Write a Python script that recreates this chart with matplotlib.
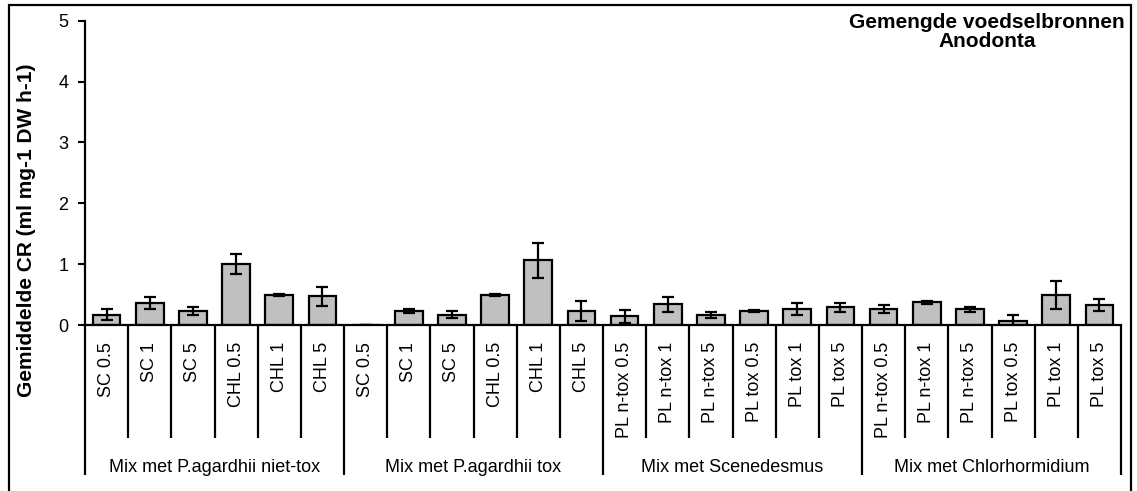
import numpy as np
import matplotlib
matplotlib.use("Agg")
import matplotlib.pyplot as plt
from matplotlib.patches import Rectangle
import matplotlib.transforms as mtransforms

plt.rcParams['font.family'] = ['Liberation Sans', 'DejaVu Sans']

# -----------------------------
# Data
# -----------------------------
groups = [
    "Mix met P.agardhii niet-tox",
    "Mix met P.agardhii tox",
    "Mix met Scenedesmus",
    "Mix met Chlorhormidium",
]
sc_chl_labels = ["SC 0.5", "SC 1", "SC 5", "CHL 0.5", "CHL 1", "CHL 5"]
pl_labels = ["PL n-tox 0.5", "PL n-tox 1", "PL n-tox 5", "PL tox 0.5", "PL tox 1", "PL tox 5"]
categories = sc_chl_labels + sc_chl_labels + pl_labels + pl_labels

cr_niet_tox = [0.17, 0.36, 0.23, 1.00, 0.49, 0.47]
cr_tox = [0.00, 0.23, 0.17, 0.49, 1.06, 0.23]
cr_scenedesmus = [0.14, 0.34, 0.16, 0.23, 0.26, 0.29]
cr_chlorhormidium = [0.26, 0.37, 0.26, 0.07, 0.50, 0.33]

err_niet_tox = [0.09, 0.10, 0.07, 0.17, 0.02, 0.16]
err_tox = [0.00, 0.04, 0.06, 0.02, 0.29, 0.17]
err_scenedesmus = [0.10, 0.12, 0.05, 0.01, 0.10, 0.07]
err_chlorhormidium = [0.07, 0.02, 0.04, 0.09, 0.23, 0.10]

values = cr_niet_tox + cr_tox + cr_scenedesmus + cr_chlorhormidium
errors = err_niet_tox + err_tox + err_scenedesmus + err_chlorhormidium
n_per_group = 6

# -----------------------------
# Figure / axes (pixel layout)
# -----------------------------
W, H = 1137, 491
fig = plt.figure(figsize=(W / 100, H / 100), dpi=100, facecolor="white")
ax_left, ax_right, ax_bottom, ax_top = 85, 1121, 325, 20.7
ax = fig.add_axes([ax_left / W, 1 - ax_bottom / H,
                   (ax_right - ax_left) / W, (ax_bottom - ax_top) / H])
ax_h = ax_bottom - ax_top


def px_to_axes_y(py):
    """Convert figure pixel row to axes fraction."""
    return (ax_bottom - py) / ax_h


x = np.arange(len(values)) + 0.5
ax.bar(x, values, width=0.64, color="#C0C0C0", edgecolor="black", linewidth=1.6, zorder=2)
ax.errorbar(x, values, yerr=errors, fmt="none", ecolor="black",
            elinewidth=1.6, capsize=4, capthick=1.6, zorder=3)

ax.set_xlim(0, len(values))
ax.set_ylim(0, 5)
ax.set_yticks(range(6))
ax.tick_params(axis="y", direction="out", length=5, width=1.5, pad=7, labelsize=13)
ax.set_xticks([])
for spine in ["top", "right"]:
    ax.spines[spine].set_visible(False)
for spine in ["left", "bottom"]:
    ax.spines[spine].set_linewidth(1.6)

# -----------------------------
# Multi-level category axis
# -----------------------------
trans = mtransforms.blended_transform_factory(ax.transData, ax.transAxes)
cat_bottom = px_to_axes_y(438)
grp_bottom = px_to_axes_y(475)

for i, lab in enumerate(categories):
    ax.text(x[i], px_to_axes_y(342), lab, rotation=90, ha="center", va="top",
            fontsize=13, transform=trans)

for b in range(len(values) + 1):
    yb = grp_bottom if b % n_per_group == 0 else cat_bottom
    ax.plot([b, b], [0, yb], color="black", linewidth=1.6, transform=trans,
            clip_on=False, solid_capstyle="butt")

for g, name in enumerate(groups):
    ax.text(g * n_per_group + n_per_group / 2, px_to_axes_y(472), name,
            ha="center", va="baseline", fontsize=13, transform=trans)

# -----------------------------
# Labels, title, frame
# -----------------------------
fig.text(27 / W, 1 - 230 / H, "Gemiddelde CR (ml mg-1 DW h-1)", rotation=90,
         ha="center", va="center", fontsize=15, fontweight="bold")

fig.text(1125 / W, 1 - 13 / H, "Gemengde voedselbronnen\nAnodonta",
         ha="right", va="top", multialignment="center", fontsize=15,
         fontweight="bold", linespacing=1.0)

frame = Rectangle((9 / W, -0.1), (1131 - 9) / W, 1.1 - 5 / H, transform=fig.transFigure,
                  fill=False, edgecolor="black", linewidth=1.6, clip_on=False)
fig.patches.append(frame)

plt.savefig("out.png", dpi=100, facecolor="white")
